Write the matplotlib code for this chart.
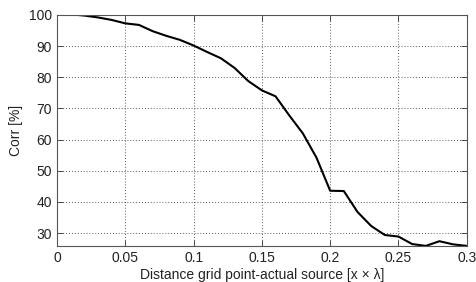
import numpy as np
import matplotlib.pyplot as plt

plt.rcParams['font.family'] = ['Liberation Sans', 'DejaVu Sans']

# distance grid point - actual source, in wavelengths
dist = [0.015, 0.02, 0.03, 0.04, 0.05, 0.06, 0.07, 0.08, 0.09, 0.10,
        0.11, 0.12, 0.13, 0.14, 0.15, 0.16, 0.17, 0.18, 0.19, 0.20,
        0.21, 0.22, 0.23, 0.24, 0.25, 0.26, 0.27, 0.28, 0.29, 0.30]
# correlation in percent
corr = [100.0, 99.8, 99.2, 98.4, 97.3, 96.8, 94.8, 93.3, 92.0, 90.2,
        88.1, 86.1, 83.0, 78.8, 75.8, 73.9, 67.8, 62.0, 54.2, 43.6,
        43.5, 36.8, 32.3, 29.4, 28.9, 26.5, 25.9, 27.4, 26.4, 25.9]

fig = plt.figure(figsize=(4.77, 2.82), dpi=100)
ax = fig.add_axes([0.1195, 0.128, 0.859, 0.819])

ax.plot(dist, corr, color='black', linewidth=1.5)

ax.set_xlim(0, 0.3)
ax.set_ylim(min(corr), 100)
ax.set_xticks([0, 0.05, 0.1, 0.15, 0.2, 0.25, 0.3])
ax.set_xticklabels(['0', '0.05', '0.1', '0.15', '0.2', '0.25', '0.3'])
ax.set_yticks([30, 40, 50, 60, 70, 80, 90, 100])

ax.grid(True, color='#222222', linestyle=(0, (1, 2.5)), linewidth=0.6)
ax.tick_params(direction='in', top=True, right=True, labelsize=10,
               length=4, width=0.6, colors='#333333', labelcolor='#222222')
for s in ax.spines.values():
    s.set_color('#555555')
    s.set_linewidth(0.8)

ax.set_xlabel('Distance grid point-actual source [x \u00d7 \u03bb]', fontsize=10,
              labelpad=2, color='#222222')
ax.set_ylabel('Corr [%]', fontsize=10, labelpad=4, color='#222222')

fig.savefig('out.png', dpi=100)
